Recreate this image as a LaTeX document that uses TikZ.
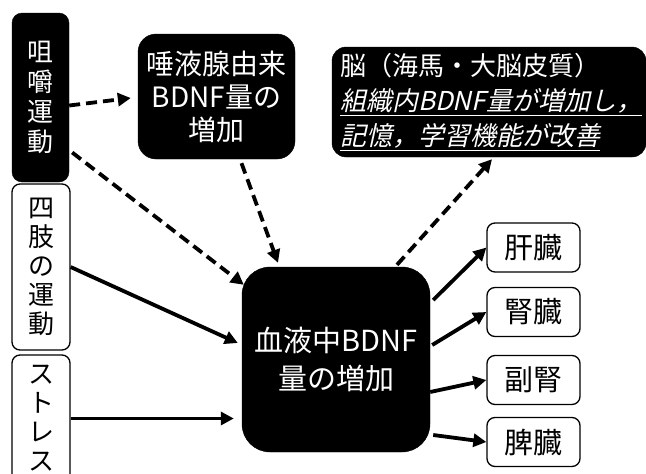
\documentclass[tikz,border=0pt]{standalone}
\usepackage{fontspec}
\setmainfont{Noto Sans CJK JP}
\newfontfamily\jpit{Noto Sans CJK JP}[FakeSlant=0.22]
\usetikzlibrary{arrows.meta,calc}
\begin{document}
\begin{tikzpicture}[x=1pt,y=-1pt,
  blackbox/.style={draw=black, fill=black, text=white, rounded corners=#1, inner sep=0pt, align=center},
  whitebox/.style={draw=black, line width=1.3pt, fill=white, rounded corners=8pt, inner sep=0pt, align=center},
  arr/.style={line width=3.8pt, -{Triangle[length=13pt,width=13pt]}},
  darr/.style={arr, dash pattern=on 11pt off 6pt},
  vfont/.style={font=\fontsize{26}{29}\selectfont},
  organ/.style={whitebox, minimum width=93pt, minimum height=49pt, font=\fontsize{29}{32}\selectfont}]
\useasboundingbox (0,0) rectangle (646,474);
\fill[white] (0,0) rectangle (646,474);

% left inputs
\node[blackbox=10pt, minimum width=57pt, minimum height=169pt, font=\fontsize{26}{30}\selectfont] (chew) at (40.5,97.5) {咀\\嚼\\運\\動};
\node[whitebox, minimum width=58pt, minimum height=166pt, vfont] (limbs) at (41,267) {四\\肢\\の\\運\\動};
\node[whitebox, minimum width=58pt, minimum height=127pt, vfont] (stress) at (41,418.5) {ス\\ト\\レ\\ス};

% salivary gland
\node[blackbox=18pt, minimum width=157pt, minimum height=125pt, font=\fontsize{28}{33}\selectfont] (saliva) at (216.5,96.5) {唾液腺由来\\BDNF量の\\増加};

% brain
\node[blackbox=14pt, minimum height=110pt, text width=298pt, inner xsep=8pt, align=left, font=\fontsize{26}{35}\selectfont] (brain) at (489,102)
  {脳（海馬・大脳皮質）\\{\jpit\underline{組織内BDNF量が増加し，}}\\{\jpit\underline{記憶，学習機能が改善}}};

% blood
\node[blackbox=28pt, minimum width=188pt, minimum height=185pt, font=\fontsize{29}{38}\selectfont] (blood) at (336,359.5) {血液中BDNF\\量の増加};

% organs
\node[organ] (liver) at (533.5,247.5) {肝臓};
\node[organ] (kidney) at (533.5,312) {腎臓};
\node[organ] (adrenal) at (533.5,380) {副腎};
\node[organ] (spleen) at (533.5,442) {脾臓};

% connectors
\draw[darr] ($(chew.east)+(0,8)$) -- ($(saliva.west)+(-7,1.5)$);
\draw[darr] ($(chew.east)+(3,55)$) -- ($(blood.north west)+(2,18)$);
\draw[darr] ($(saliva.south)+(25,4)$) -- ($(blood.north)+(-58,-4)$);
\draw[darr] ($(blood.north)+(61,-2)$) -- ($(brain.south)+(3,2)$);
\draw[arr] (limbs.east) -- ($(blood.west)+(-4,-16.5)$);
\draw[arr] (stress.east) -- ($(stress.east -| blood.west)+(-8,0)$);
\draw[arr] ($(blood.east)+(3,-59.5)$) -- (liver.west);
\draw[arr] ($(blood.east)+(2,-14.5)$) -- (kidney.west);
\draw[arr] ($(blood.east)+(0,32.5)$) -- (adrenal.west);
\draw[arr] ($(blood.east)+(3,75.5)$) -- (spleen.west);
\end{tikzpicture}
\end{document}
